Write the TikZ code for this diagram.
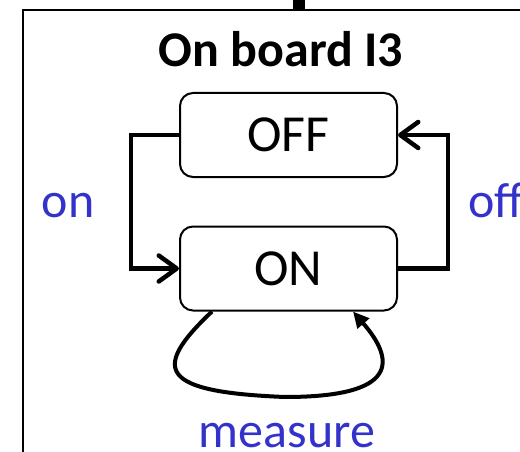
\documentclass[tikz,border=0pt]{standalone}
\usepackage{fontspec}
\setmainfont{Carlito}
\usepackage{tikz}
\usetikzlibrary{arrows.meta,positioning,calc}
\definecolor{lblue}{RGB}{51,51,204}
\tikzset{
  snode/.style={rectangle,rounded corners=13pt,draw,line width=2pt,minimum width=217pt,minimum height=84pt,inner sep=0pt,font=\fontsize{52}{60}\selectfont},
  tlabel/.style={text=lblue,inner sep=0pt,font=\fontsize{50}{60}\selectfont},
  te/.style={-{Straight Barb[length=18pt,width=26pt,round]},line width=4.5pt},
  le/.style={-{Triangle[length=16pt,width=15pt]},line width=4pt},
  frame/.style={line width=2.3pt}
}

\begin{document}
\begin{tikzpicture}[x=1pt,y=-1pt]
\useasboundingbox (0,0) rectangle (520,452);
% board frame and the feed on top
\draw[frame] (23,470) |- (540,10);
\draw[line width=12pt] (299,-5) -- (299,10);
\node[anchor=base,inner sep=0pt,font=\bfseries\fontsize{50}{60}\selectfont] (title) at (281,67) {On board I3};
\node[snode] (OFF) at (288.5,135) {OFF};
\node[snode] (ON) at (288.5,268.5) {ON};
\draw[te] (OFF.west) -- ++(-48,0) |- (ON.west);
\draw[te] (ON.east) -- ++(50,0) |- (OFF.east);
\draw[le] ([xshift=33pt]ON.south west) .. controls (150,370) and (160,392) .. (285,397)
  .. controls (400,397) and (395,360) .. ([xshift=-45pt]ON.south east);
\node[tlabel,anchor=base] (lon) at (68,217) {on};
\node[tlabel,anchor=base west] (loff) at (468,217) {off};
\node[tlabel,anchor=base] (lmeas) at (287,447) {measure};
\end{tikzpicture}
\end{document}
